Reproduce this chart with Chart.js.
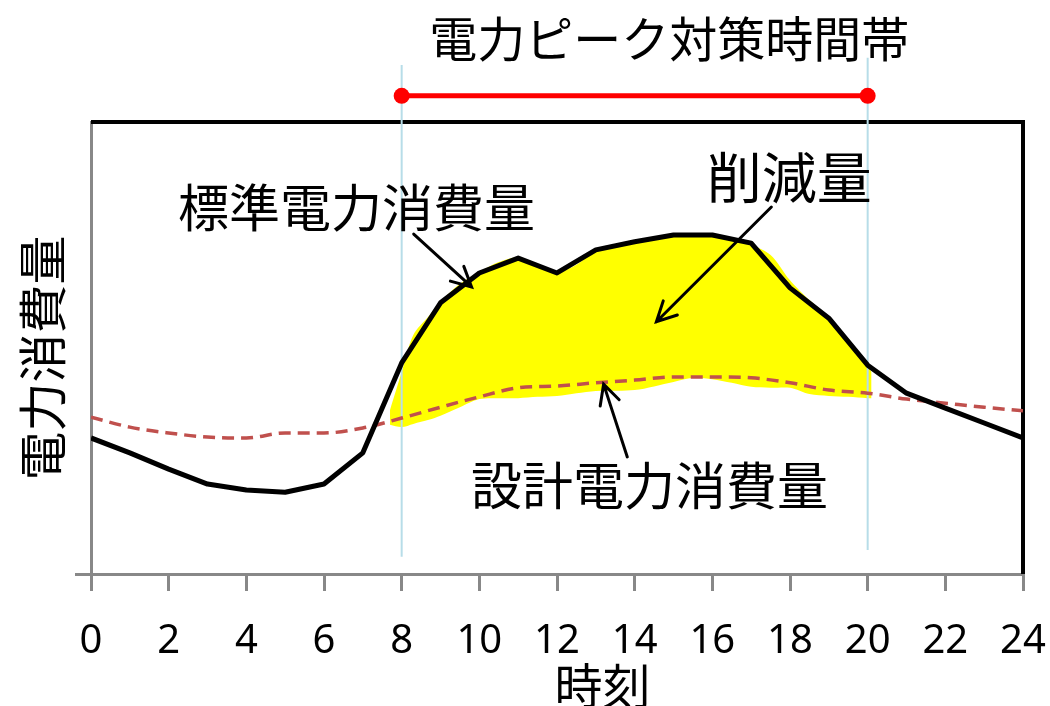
<!DOCTYPE html>
<html lang="ja">
<head>
<meta charset="utf-8">
<title>電力ピーク対策時間帯</title>
<script src="https://cdn.jsdelivr.net/npm/chart.js@4.4.1/dist/chart.umd.min.js"></script>
<style>
  html, body { margin: 0; padding: 0; background: #ffffff; }
  #wrap { width: 1050px; height: 706px; position: relative; }
</style>
</head>
<body>
<div id="wrap"><canvas id="chart" width="1050" height="706"></canvas></div>
<script>
// 時刻 (h)
const hours = [0, 1, 2, 3, 4, 5, 6, 7, 8, 9, 10, 11, 12, 13, 14, 15, 16, 17, 18, 19, 20, 21, 22, 23, 24];
// 標準電力消費量 (相対値)
const standardLoad = [30.1, 26.8, 23.2, 19.9, 18.6, 18.1, 19.9, 26.8, 46.7, 60.0, 66.6, 69.9, 66.6,
                      71.7, 73.5, 75.0, 75.0, 73.2, 63.3, 56.6, 46.2, 40.0, 36.7, 33.4, 30.1];
// 設計電力消費量 (相対値)
const designLoad = [34.7, 32.5, 31.2, 30.3, 30.1, 31.2, 31.2, 32.3, 34.5, 36.9, 39.2, 41.2, 41.6,
                    42.3, 42.9, 43.6, 43.6, 43.4, 42.3, 40.7, 40.0, 38.7, 37.8, 36.9, 36.1];

// 削減量 (塗りつぶし領域の上端・下端)
const cutHours = [7.7, 8, 8.3, 8.7, 9, 9.5, 10, 10.5, 11, 11.5, 12, 12.5, 13, 14, 15, 15.5, 16,
                  16.5, 17, 17.5, 18, 18.5, 19, 19.5, 20, 20.1];
const cutUpper = [36.3, 44.7, 52.9, 57.1, 60.2, 64.2, 66.8, 69.0, 70.1, 68.6, 66.8, 68.4, 71.7,
                  73.7, 75.0, 75.2, 74.8, 73.9, 72.8, 70.6, 65.0, 60.6, 56.9, 51.8, 46.2, 44.7];
const cutLower = [33.0, 32.5, 33.2, 34.1, 35.0, 36.9, 38.7, 38.9, 38.9, 39.2, 39.4, 40.0, 40.5,
                  40.7, 42.5, 43.4, 43.1, 42.3, 41.4, 41.2, 41.2, 39.8, 39.4, 39.2, 38.9, 38.9];

// 電力ピーク対策時間帯 (開始・終了時刻)
const peakWindow = [8, 20];
const peakBarLevel = 105.8;
const guideBottom = [3.8, 5.3];
const guideTop = [112.6, 114.2];

// 目盛
const xTickStep = 2;
const xRange = [0, 24];
const yRange = [0, 100];

const JP = '"Noto Sans CJK JP", "Noto Sans", sans-serif';

const toPoints = (xs, ys) => xs.map((x, i) => ({ x: x, y: ys[i] }));

// 注記テキストと矢印 (データ座標)
const notes = [
  { text: '電力ピーク対策時間帯', x: 14.89, y: 118.4, size: 48 },
  { text: '標準電力消費量', x: 6.84, y: 81.0, size: 51 },
  { text: '削減量', x: 17.98, y: 87.8, size: 55 },
  { text: '設計電力消費量', x: 14.38, y: 19.5, size: 51 }
];
const arrows = [
  { from: [8.31, 75.2], to: [9.80, 63.5] },
  { from: [17.52, 81.2], to: [14.56, 55.8] },
  { from: [13.81, 25.9], to: [13.20, 42.0] }
];

const PEAK_DATASET = 4;

const annotationPlugin = {
  id: 'annotations',
  beforeDatasetsDraw(chart) {
    // 枠線 (上・右)
    const { ctx, chartArea: a } = chart;
    ctx.save();
    ctx.strokeStyle = '#000000';
    ctx.lineWidth = 4;
    ctx.beginPath();
    ctx.moveTo(a.left, a.top);
    ctx.lineTo(a.right, a.top);
    ctx.lineTo(a.right, a.bottom);
    ctx.stroke();
    ctx.restore();
  },
  afterDatasetsDraw(chart) {
    // 時間帯の両端マーカー (描画領域外のため個別に描く)
    const { ctx } = chart;
    const meta = chart.getDatasetMeta(PEAK_DATASET);
    const ds = chart.data.datasets[PEAK_DATASET];
    ctx.save();
    ctx.fillStyle = ds.borderColor;
    meta.data.forEach(pt => {
      ctx.beginPath();
      ctx.arc(pt.x, pt.y, 8, 0, Math.PI * 2);
      ctx.fill();
    });
    ctx.restore();
  },
  afterDraw(chart) {
    const { ctx, scales: { x, y } } = chart;
    ctx.save();
    ctx.fillStyle = '#000000';
    ctx.textAlign = 'center';
    ctx.textBaseline = 'middle';
    notes.forEach(n => {
      ctx.font = n.size + 'px ' + JP;
      ctx.fillText(n.text, x.getPixelForValue(n.x), y.getPixelForValue(n.y));
    });

    // 軸タイトル
    ctx.font = '48px ' + JP;
    ctx.fillText('時刻', x.getPixelForValue(13.17), 686);
    ctx.save();
    ctx.translate(42, y.getPixelForValue(47.8));
    ctx.rotate(-Math.PI / 2);
    ctx.font = '49px ' + JP;
    ctx.fillText('電力消費量', 0, 0);
    ctx.restore();

    // 矢印
    ctx.strokeStyle = '#000000';
    ctx.lineWidth = 3;
    ctx.lineCap = 'round';
    arrows.forEach(ar => {
      const x0 = x.getPixelForValue(ar.from[0]), y0 = y.getPixelForValue(ar.from[1]);
      const x1 = x.getPixelForValue(ar.to[0]), y1 = y.getPixelForValue(ar.to[1]);
      const ang = Math.atan2(y1 - y0, x1 - x0);
      const len = 22, spread = 0.47;
      ctx.beginPath();
      ctx.moveTo(x0, y0);
      ctx.lineTo(x1, y1);
      ctx.moveTo(x1 - len * Math.cos(ang - spread), y1 - len * Math.sin(ang - spread));
      ctx.lineTo(x1, y1);
      ctx.lineTo(x1 - len * Math.cos(ang + spread), y1 - len * Math.sin(ang + spread));
      ctx.stroke();
    });
    ctx.restore();
  }
};

const datasets = [
  {
    label: '標準電力消費量',
    data: toPoints(hours, standardLoad),
    borderColor: '#000000',
    borderWidth: 5,
    pointRadius: 0,
    tension: 0,
    borderJoinStyle: 'round',
    fill: false
  },
  {
    label: '設計電力消費量',
    data: toPoints(hours, designLoad),
    borderColor: '#C0504D',
    borderWidth: 3.5,
    borderDash: [12, 7],
    pointRadius: 0,
    cubicInterpolationMode: 'monotone',
    fill: false
  },
  {
    label: '開始',
    data: [{ x: peakWindow[0], y: guideBottom[0] }, { x: peakWindow[0], y: guideTop[0] }],
    borderColor: '#B7DDE8',
    borderWidth: 2,
    pointRadius: 0,
    clip: false,
    fill: false
  },
  {
    label: '終了',
    data: [{ x: peakWindow[1], y: guideBottom[1] }, { x: peakWindow[1], y: guideTop[1] }],
    borderColor: '#B7DDE8',
    borderWidth: 2,
    pointRadius: 0,
    clip: false,
    fill: false
  },
  {
    label: '電力ピーク対策時間帯',
    data: peakWindow.map(h => ({ x: h, y: peakBarLevel })),
    borderColor: '#FF0000',
    backgroundColor: '#FF0000',
    borderWidth: 5,
    pointRadius: 0,
    clip: false,
    fill: false
  },
  {
    label: '削減量',
    data: toPoints(cutHours, cutUpper),
    borderWidth: 0,
    borderColor: 'rgba(0,0,0,0)',
    backgroundColor: '#FFFF00',
    pointRadius: 0,
    tension: 0.3,
    fill: '+1'
  },
  {
    label: '削減量下端',
    data: toPoints(cutHours, cutLower),
    borderWidth: 0,
    borderColor: 'rgba(0,0,0,0)',
    pointRadius: 0,
    tension: 0.3,
    fill: false
  }
];

new Chart(document.getElementById('chart'), {
  type: 'line',
  data: { datasets: datasets },
  options: {
    responsive: false,
    animation: false,
    devicePixelRatio: 1,
    layout: { padding: { top: 122, right: 27, bottom: 0, left: 0 } },
    plugins: {
      legend: { display: false },
      tooltip: { enabled: false },
      title: { display: false }
    },
    scales: {
      x: {
        type: 'linear',
        min: xRange[0],
        max: xRange[1],
        ticks: {
          stepSize: xTickStep,
          color: '#000000',
          font: { family: '"Noto Sans", sans-serif', size: 40 },
          padding: 27,
          maxRotation: 0,
          autoSkip: false
        },
        grid: {
          drawOnChartArea: false,
          drawTicks: true,
          tickLength: 17,
          color: '#888888',
          lineWidth: 3
        },
        border: { display: true, color: '#888888', width: 3 },
        afterFit(scale) {
          scale.height = 132;
          // 端の目盛ラベル分の余白は外側の余白で確保済み
          scale.paddingLeft = 0;
          scale.paddingRight = 0;
        }
      },
      y: {
        min: yRange[0],
        max: yRange[1],
        ticks: { display: false },
        afterBuildTicks(scale) { scale.ticks = [{ value: yRange[0] }]; },
        grid: {
          drawOnChartArea: false,
          drawTicks: true,
          tickLength: 16,
          color: '#888888',
          lineWidth: 3
        },
        border: { display: true, color: '#888888', width: 3 },
        afterFit(scale) { scale.width = 91; }
      }
    }
  },
  plugins: [annotationPlugin]
});
</script>
</body>
</html>
